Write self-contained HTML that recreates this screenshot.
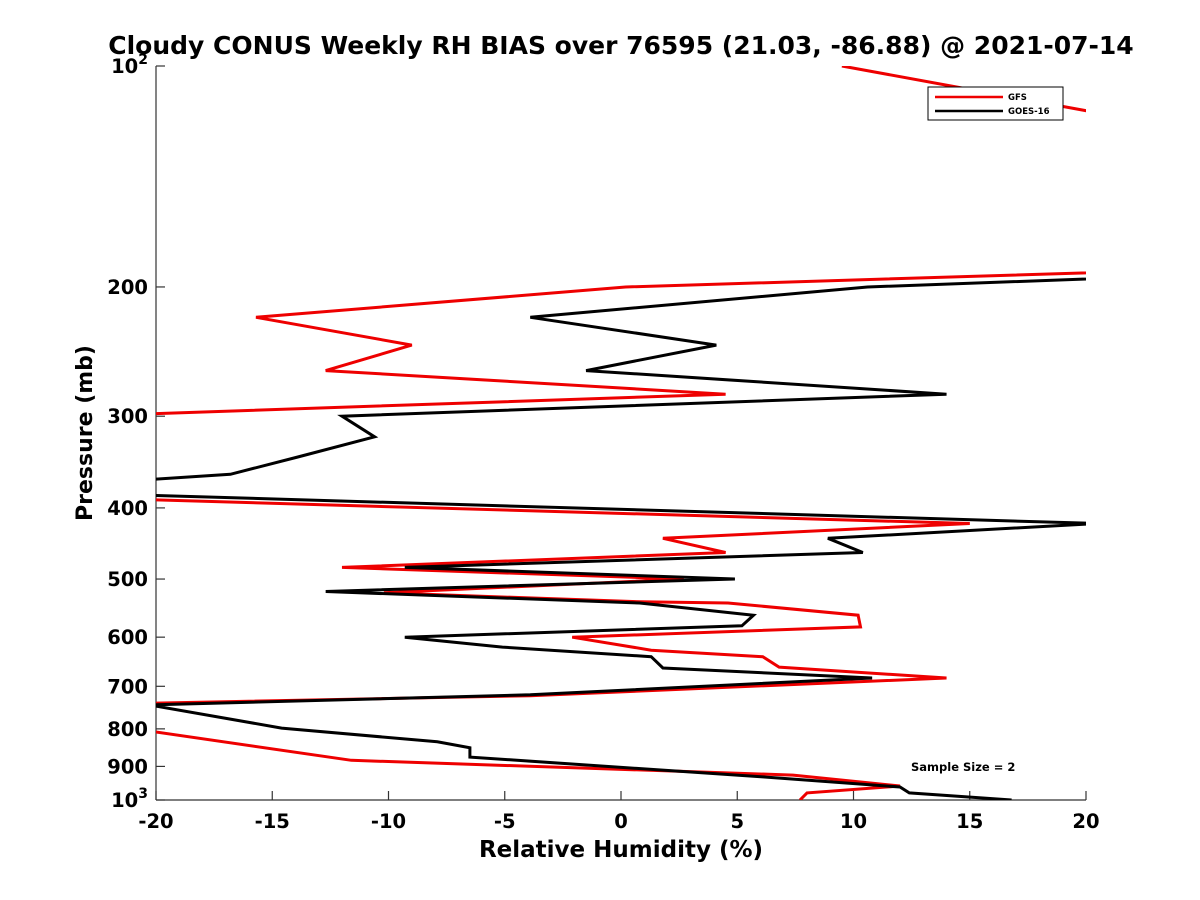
<!DOCTYPE html>
<html><head><meta charset="utf-8"><style>
html,body{margin:0;padding:0;background:#fff;}
svg{display:block;font-family:"DejaVu Sans","Liberation Sans",sans-serif;}
</style></head><body>
<svg id="chart" width="1200" height="900">
<defs><clipPath id="plotclip"><rect x="156" y="66" width="930" height="734"/></clipPath></defs>
<text x="621" y="54" text-anchor="middle" font-size="25" font-weight="bold">Cloudy CONUS Weekly RH BIAS over 76595 (21.03, -86.88) @ 2021-07-14</text>
<g id="axes"></g>
<g id="series" clip-path="url(#plotclip)"></g>
<g>
<rect x="928" y="87" width="135" height="33" fill="#fff" stroke="#000" stroke-width="1"/>
<line x1="935" y1="97" x2="1003" y2="97" stroke="#e00" stroke-width="2.5"/>
<text x="1008" y="100" font-size="8.5" font-weight="bold">GFS</text>
<line x1="935" y1="111" x2="1003" y2="111" stroke="#000" stroke-width="2.5"/>
<text x="1008" y="114" font-size="8.5" font-weight="bold">GOES-16</text>
</g>
<text x="911" y="771" font-size="11.5" font-weight="bold">Sample Size = 2</text>
<text x="621" y="857" text-anchor="middle" font-size="23" font-weight="bold">Relative Humidity (%)</text>
<text transform="translate(92,433) rotate(-90)" text-anchor="middle" font-size="22" font-weight="bold">Pressure (mb)</text>
</svg>
<script>
const xTicks = [-20,-15,-10,-5,0,5,10,15,20];
const yTicks = [100,200,300,400,500,600,700,800,900,1000];
const gfsRH = [9.5,25,40,0.2,-15.7,-9.0,-12.7,4.5,-30,-30,15.0,1.8,4.5,-12.0,2.7,-10.2,0.8,4.6,10.2,10.3,-2.1,1.3,6.1,6.8,14.0,-3.9,-22,-22,-11.6,7.4,10.3,12.0,8.0,7.7];
const gfsP  = [100,123,183,200,220,240,260,280,305,382,420,440,460,482,500,522,537,539,560,581,600,625,638,659,682,721,740,791,883,925,945,957,978,1000];
const goesRH = [40,10.6,-3.9,4.1,-1.5,14.0,-12.0,-10.6,-13.9,-16.8,-22,-22,20.5,8.9,10.4,-9.3,4.9,-12.7,0.8,5.7,5.2,-9.3,-5.1,1.3,1.8,10.8,-3.9,-20.3,-14.6,-7.9,-6.5,-6.5,6.1,12.0,12.4,16.8];
const goesP  = [185,200,220,240,260,280,300,320,341,360,369,383,420,440,460,482,500,520,539,560,579,600,619,638,661,682,719,742,798,833,849,874,930,960,978,1000];

const X0=156,X1=1086,Y0=66,Y1=800;
const xs = v => X0+(v+20)/40*(X1-X0);
const ys = p => Y0+(Math.log10(p)-2)*(Y1-Y0);
const NS="http://www.w3.org/2000/svg";
const axes=document.getElementById('axes'), series=document.getElementById('series');
function mk(t,a,parent){const e=document.createElementNS(NS,t);for(const k in a)e.setAttribute(k,a[k]);parent.appendChild(e);return e;}

const ya=mk('line',{x1:X0,y1:Y0,x2:X0,y2:Y1,stroke:'#333','stroke-width':1.2},axes);


const xa=mk('line',{x1:X0,y1:Y1,x2:X1,y2:Y1,stroke:'#333','stroke-width':1.2},axes);



xTicks.forEach(v=>{
  const x=xs(v);
  const t=mk('line',{x1:x,y1:Y1,x2:x,y2:Y1-9,stroke:'#333','stroke-width':1.2},axes);
  
  
  const l=mk('text',{x:x,y:Y1+28,'text-anchor':'middle','font-size':19.5,'font-weight':'bold'},axes);
  l.textContent=String(v);
  
  
});
yTicks.forEach(p=>{
  const y=ys(p);
  const t=mk('line',{x1:X0,y1:y,x2:X0+9,y2:y,stroke:'#333','stroke-width':1.2},axes);
  
  
  const l=mk('text',{x:X0-8,y:y+7,'text-anchor':'end','font-size':19.5,'font-weight':'bold'},axes);
  if(p===100||p===1000){
    l.textContent='10';
    const s=mk('tspan',{'font-size':14,dy:-9},l);
    s.textContent=p===100?'2':'3';
  } else l.textContent=String(p);
  
  
});

function drawLine(rh,p,color,name){
  const d=rh.map((v,i)=>(i?'L':'M')+xs(v).toFixed(1)+','+ys(p[i]).toFixed(1)).join(' ');
  const path=mk('path',{d:d,fill:'none',stroke:color,'stroke-width':3,'stroke-linejoin':'miter'},series);
  
  
}
drawLine(gfsRH,gfsP,'#e00','gfs-line');
drawLine(goesRH,goesP,'#000','goes16-line');
</script>
</body></html>
